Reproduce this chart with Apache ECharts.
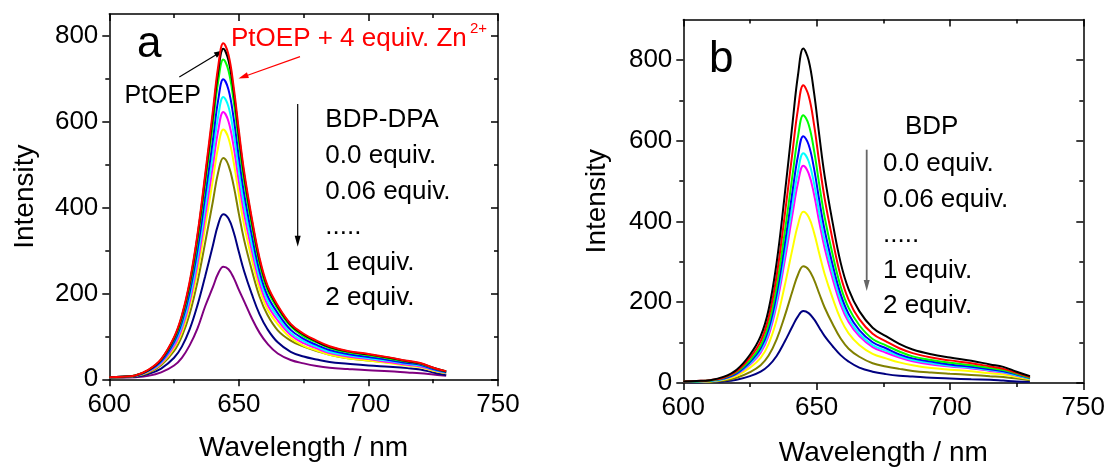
<!DOCTYPE html>
<html><head><meta charset="utf-8">
<script src="https://cdn.jsdelivr.net/npm/echarts@6/dist/echarts.min.js"></script>
<style>html,body{margin:0;padding:0;background:#fff}#c{width:1110px;height:472px}</style>
</head><body><div id="c"></div>
<script>
// ---------- data ----------
const waveA = [600,605,610,615,620,625,628,631,634,637,640,642,644,646,648,650,652,655,658,661,665,670,675,680,685,692,700,708,715,720,725,730];
const waveB = [600,605,610,615,620,625,629,632,635,638,641,643,645,647,649,651,653,656,659,662,666,671,676,681,686,693,700,708,715,720,725,730];

// panel a: PtOEP + BDP-DPA titration
const aRed     = [5,6,9,22,47,98,149,227,336,477,626,727,782,755,680,579,485,375,282,219,172,129,106,90,77,66,59,51,43,38,27,19];
const aBlack   = [5,6,9,21,46,96,146,222,331,469,615,715,769,742,669,569,477,369,277,215,169,127,104,88,75,65,58,50,42,37,27,18];
const aGreen   = [5,6,9,21,45,93,141,215,320,454,595,692,744,718,647,551,461,357,268,208,164,123,100,86,73,63,56,48,41,36,26,18];
const aBlue    = [5,6,8,20,42,87,133,202,300,426,558,649,698,674,607,517,433,335,251,195,154,115,94,80,68,59,52,45,38,34,24,17];
const aCyan    = [5,6,8,19,40,83,125,190,283,401,526,611,657,634,572,486,407,315,237,184,145,108,89,76,64,56,49,43,36,32,23,16];
const aMagenta = [5,6,8,18,38,78,118,180,268,379,498,578,622,600,541,460,386,299,224,174,137,103,84,72,61,53,47,40,34,30,22,15];
const aYellow  = [5,6,8,17,36,73,110,169,249,355,465,540,581,561,505,430,360,279,209,163,128,96,78,67,57,49,44,38,32,28,20,14];
const aOlive   = [4,5,7,15,33,66,100,152,226,318,415,481,515,498,450,385,325,254,192,150,114,90,76,66,57,49,44,39,34,30,21,14];
const aNavy    = [4,5,6,12,25,50,76,116,172,240,312,360,384,374,342,296,252,198,151,117,86,64,53,46,40,36,32,29,26,23,16,10];
const aPurple  = [4,4,5,8,16,32,50,79,118,170,215,246,262,256,236,208,182,142,108,83,60,45,37,31,27,24,21,19,16,14,11,8];

// panel b: BDP titration
const bBlack   = [4,5,7,15,33,70,116,182,298,464,646,762,828,799,720,613,513,397,298,232,178,137,116,97,83,71,63,55,46,40,28,17];
const bRed     = [4,5,7,13,29,63,103,162,265,413,575,678,737,711,641,545,457,354,265,206,158,122,103,86,74,63,56,49,41,35,25,15];
const bGreen   = [4,4,6,12,27,56,93,146,239,371,517,610,663,640,577,491,411,318,239,186,143,109,93,78,66,57,50,44,37,32,23,13];
const bBlue    = [3,4,6,11,24,52,86,134,220,342,477,562,611,590,532,452,379,293,220,171,131,101,86,71,61,53,46,40,34,29,21,12];
const bCyan    = [3,4,5,10,23,48,80,125,205,319,444,523,569,549,495,421,353,273,205,159,122,94,80,67,57,49,43,38,32,27,19,11];
const bMagenta = [3,4,5,10,22,46,75,118,194,301,420,495,538,519,468,398,334,258,194,151,116,89,75,63,54,46,41,36,30,26,18,11];
const bYellow  = [3,3,4,8,18,38,62,97,156,240,334,392,424,411,373,320,270,210,158,123,94,72,61,51,44,37,33,29,24,21,15,9];
const bOlive   = [2,3,3,6,13,27,44,68,108,165,229,268,289,281,256,221,187,146,110,85,65,49,41,35,30,26,23,20,17,15,11,7];
const bNavy    = [2,2,3,4,8,17,28,43,67,102,141,165,178,173,158,137,116,91,69,53,38,28,22,18,16,13,11,9,8,6,4,3];

const yMajor = [0, 200, 400, 600, 800];
const yMinor = [100, 300, 500, 700];

// ---------- chart ----------
const FF = '"Liberation Sans", Arial, sans-serif';
const chart = echarts.init(document.getElementById('c'), null, {renderer: 'canvas'});

function xAx(grid, pos, labels) {
  return {
    type: 'value', gridIndex: grid, position: pos, min: 600, max: 750, interval: 50,
    axisLine: {show: true, onZero: false, lineStyle: {color: '#000', width: 1.5}},
    axisTick: {show: true, inside: pos === 'top', length: 7, lineStyle: {color: '#000', width: 1.5}},
    minorTick: {show: true, splitNumber: 2, length: 4, lineStyle: {color: '#000', width: 1.5}},
    splitLine: {show: false}, minorSplitLine: {show: false},
    axisLabel: {show: labels, margin: grid === 0 ? 13 : 12, fontSize: 26, color: '#000', fontFamily: FF},
    name: labels ? 'Wavelength / nm' : '', nameLocation: 'middle', nameGap: grid === 0 ? 55 : 56,
    nameTextStyle: {fontSize: 28, color: '#000', fontFamily: FF}
  };
}
function yAx(grid, pos, max, vals, len, line, labels, gap) {
  return {
    type: 'value', gridIndex: grid, position: pos, min: 0, max: max,
    axisLine: {show: line, onZero: false, lineStyle: {color: '#000', width: 1.5}},
    axisTick: {show: true, inside: pos === 'right', length: len, customValues: vals, lineStyle: {color: '#000', width: 1.5}},
    splitLine: {show: false},
    axisLabel: {show: labels, customValues: vals, margin: 11, fontSize: 26, color: '#000', fontFamily: FF},
    name: labels ? 'Intensity' : '', nameLocation: 'middle', nameGap: gap || 70,
    nameTextStyle: {fontSize: 28, color: '#000', fontFamily: FF}
  };
}
function ser(data, wave, color, xi, yi) {
  return {
    type: 'line', xAxisIndex: xi, yAxisIndex: yi, showSymbol: false, smooth: 0.4,
    lineStyle: {color: color, width: 2}, itemStyle: {color: color}, silent: true,
    data: wave.map((w, i) => [w, data[i]])
  };
}
function arrow(x1, y1, x2, y2, color, lw, hl, hw) {
  const dx = x2 - x1, dy = y2 - y1, L = Math.hypot(dx, dy), ux = dx / L, uy = dy / L;
  const bx = x2 - ux * hl, by = y2 - uy * hl, px = -uy, py = ux;
  return [
    {type: 'line', shape: {x1: x1, y1: y1, x2: bx + ux, y2: by + uy}, style: {stroke: color, lineWidth: lw}},
    {type: 'polygon', shape: {points: [[x2, y2], [bx + px * hw / 2, by + py * hw / 2], [bx - px * hw / 2, by - py * hw / 2]]}, style: {fill: color}}
  ];
}
function txt(t, x, y, size, color, lh) {
  return {type: 'text', style: {text: t, x: x, y: y, fill: color, font: 'normal ' + size + 'px ' + FF,
    align: 'left', verticalAlign: lh ? 'top' : 'middle', lineHeight: lh || undefined}};
}

const option = {
  animation: false,
  backgroundColor: '#fff',
  grid: [
    {left: 109.3, top: 14, width: 388.7, height: 365.3},
    {left: 683.3, top: 19.5, width: 400, height: 365.5}
  ],
  xAxis: [xAx(0, 'bottom', true), xAx(0, 'top', false), xAx(1, 'bottom', true), xAx(1, 'top', false)],
  yAxis: [
    yAx(0, 'left', 850, yMajor, 7, true, true, 70),
    yAx(0, 'left', 850, yMinor, 4, false, false),
    yAx(0, 'right', 850, yMajor, 7, true, false),
    yAx(0, 'right', 850, yMinor, 4, false, false),
    yAx(1, 'left', 900, yMajor, 7, true, true, 72),
    yAx(1, 'left', 900, yMinor, 4, false, false),
    yAx(1, 'right', 900, yMajor, 7, true, false),
    yAx(1, 'right', 900, yMinor, 4, false, false)
  ],
  series: [
    ser(aPurple, waveA, '#800080', 0, 0),
    ser(aNavy, waveA, '#000080', 0, 0),
    ser(aOlive, waveA, '#808000', 0, 0),
    ser(aYellow, waveA, '#ffff00', 0, 0),
    ser(aMagenta, waveA, '#ff00ff', 0, 0),
    ser(aCyan, waveA, '#00ffff', 0, 0),
    ser(aBlue, waveA, '#0000ff', 0, 0),
    ser(aGreen, waveA, '#00ff00', 0, 0),
    ser(aBlack, waveA, '#000000', 0, 0),
    ser(aRed, waveA, '#ff0000', 0, 0),
    ser(bNavy, waveB, '#000080', 2, 4),
    ser(bOlive, waveB, '#808000', 2, 4),
    ser(bYellow, waveB, '#ffff00', 2, 4),
    ser(bMagenta, waveB, '#ff00ff', 2, 4),
    ser(bCyan, waveB, '#00ffff', 2, 4),
    ser(bBlue, waveB, '#0000ff', 2, 4),
    ser(bGreen, waveB, '#00ff00', 2, 4),
    ser(bRed, waveB, '#ff0000', 2, 4),
    ser(bBlack, waveB, '#000000', 2, 4)
  ],
  graphic: [].concat(
    [
      txt('a', 137, 45, 44, '#000'),
      txt('PtOEP + 4 equiv. Zn', 231, 39, 26, '#ff0000'),
      txt('2+', 470, 29, 15, '#ff0000'),
      txt('PtOEP', 124.5, 96.3, 25, '#000'),
      txt('BDP-DPA\n0.0 equiv.\n0.06 equiv.\n.....\n1 equiv.\n2 equiv.', 325.3, 102.5, 26, '#000', 35.6),
      txt('b', 709, 59.6, 44, '#000'),
      txt('BDP', 905, 127, 26, '#000'),
      txt('0.0 equiv.\n0.06 equiv.\n.....\n1 equiv.\n2 equiv.', 883, 146.3, 26, '#000', 35.5)
    ],
    arrow(179.3, 77, 223, 50.5, '#000', 1.2, 9, 6),
    arrow(300, 56.7, 238.5, 78.5, '#ff0000', 1.3, 10, 6),
    arrow(297.7, 104, 297.7, 246.7, '#000', 1.2, 11, 6),
    arrow(866.7, 149.7, 866.7, 291, '#666666', 1.8, 11, 6)
  )
};
chart.setOption(option);
</script></body></html>
